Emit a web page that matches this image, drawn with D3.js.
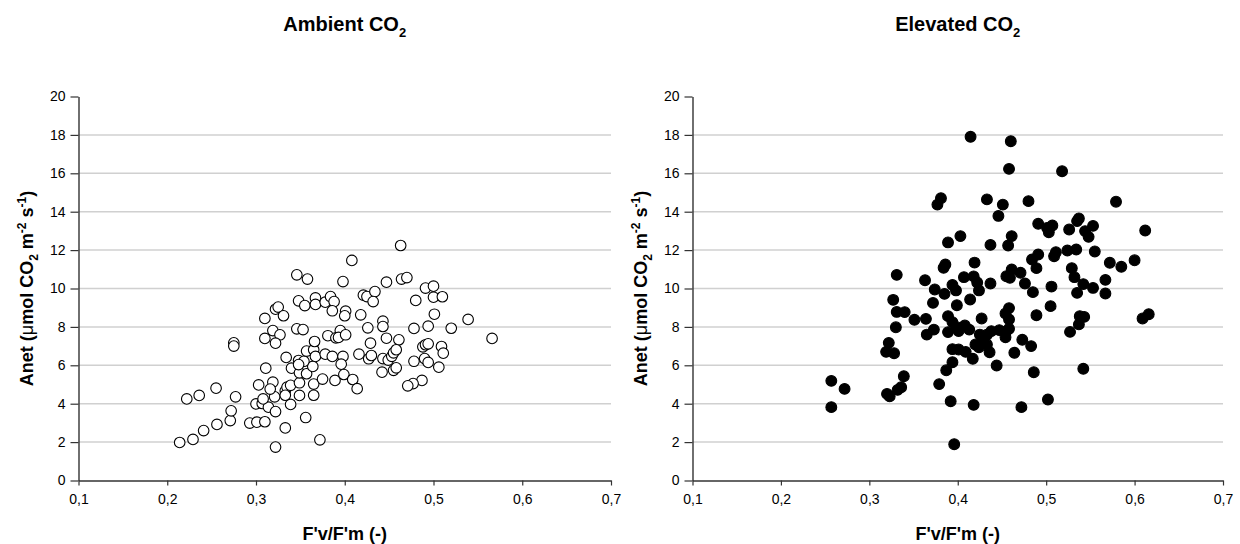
<!DOCTYPE html>
<html>
<head>
<meta charset="utf-8">
<script src="https://cdn.jsdelivr.net/npm/d3@7"></script>
<style>
body { margin: 0; background: #fff; }
</style>
</head>
<body>
<script>
var svgWidth = 1240;
var svgHeight = 544;

// Ambient CO2 panel: F'v/F'm and Anet
var ambientFv = [0.214,0.229,0.241,0.256,0.271,0.272,0.277,0.255,0.236,0.222,0.275,0.275,0.293,0.301,0.310,0.322,0.333,0.356,0.372,0.300,
  0.307,0.314,0.322,0.308,0.321,0.319,0.316,0.303,0.311,0.339,0.333,0.335,0.339,0.333,0.349,0.349,0.365,0.365,0.375,0.389,
  0.399,0.409,0.414,0.340,0.334,0.349,0.357,0.364,0.348,0.354,0.348,0.357,0.365,0.367,0.378,0.386,0.398,0.396,0.366,0.310,
  0.319,0.327,0.322,0.346,0.353,0.310,0.322,0.325,0.331,0.348,0.355,0.346,0.358,0.367,0.367,0.378,0.384,0.388,0.386,0.398,
  0.408,0.401,0.400,0.381,0.390,0.395,0.393,0.401,0.463,0.447,0.464,0.470,0.491,0.500,0.500,0.510,0.480,0.421,0.425,0.434,
  0.432,0.418,0.443,0.443,0.426,0.478,0.494,0.501,0.520,0.539,0.566,0.447,0.461,0.429,0.488,0.491,0.494,0.509,0.511,0.416,
  0.427,0.430,0.443,0.449,0.453,0.455,0.458,0.478,0.490,0.494,0.506,0.442,0.455,0.458,0.487,0.477,0.471];
var ambientAnet = [1.98,2.14,2.60,2.92,3.12,3.63,4.36,4.81,4.43,4.25,7.17,7.00,2.99,3.04,3.06,1.74,2.74,3.28,2.12,3.99,
  4.01,3.82,3.59,4.25,4.36,5.12,4.76,4.98,5.85,3.96,4.67,4.86,4.96,4.44,4.43,5.09,4.44,5.02,5.28,5.21,
  5.52,5.26,4.78,5.85,6.41,5.61,5.56,5.94,6.25,6.21,6.04,6.74,6.81,6.46,6.58,6.46,6.46,6.06,7.24,7.40,
  7.81,7.59,7.15,7.90,7.86,8.44,8.92,9.03,8.58,9.36,9.11,10.71,10.49,9.51,9.17,9.29,9.58,9.32,8.84,10.36,
  11.46,8.82,8.58,7.54,7.43,7.81,7.45,7.59,12.24,10.33,10.49,10.57,10.02,10.12,9.55,9.57,9.38,9.65,9.58,9.84,
  9.32,8.63,8.30,8.02,7.95,7.92,8.04,8.66,7.93,8.39,7.40,7.41,7.33,7.15,6.96,7.07,7.12,6.98,6.63,6.58,
  6.34,6.51,6.35,6.27,6.47,6.65,6.81,6.21,6.35,6.15,5.90,5.64,5.74,5.87,5.21,5.05,4.93];

// Elevated CO2 panel
var elevatedFv = [0.381,0.377,0.433,0.451,0.446,0.403,0.389,0.437,0.457,0.386,0.384,0.419,0.331,0.363,0.374,0.385,0.394,0.398,0.407,0.418,
  0.422,0.424,0.437,0.455,0.327,0.372,0.399,0.414,0.331,0.340,0.351,0.364,0.330,0.389,0.394,0.427,0.454,0.373,0.365,0.389,
  0.399,0.408,0.401,0.413,0.425,0.438,0.447,0.455,0.257,0.257,0.272,0.320,0.323,0.332,0.336,0.339,0.322,0.319,0.328,0.379,
  0.387,0.394,0.392,0.396,0.418,0.394,0.401,0.409,0.417,0.420,0.424,0.436,0.444,0.433,0.429,0.433,0.454,0.458,0.460,0.4145,
  0.458,0.518,0.480,0.579,0.612,0.491,0.501,0.507,0.503,0.526,0.535,0.537,0.544,0.548,0.553,0.461,0.491,0.484,0.489,0.509,
  0.511,0.524,0.534,0.555,0.572,0.585,0.600,0.461,0.459,0.471,0.476,0.485,0.506,0.529,0.532,0.542,0.535,0.553,0.567,0.567,
  0.505,0.489,0.458,0.458,0.538,0.543,0.537,0.527,0.609,0.616,0.473,0.483,0.464,0.486,0.542,0.502,0.472];
var elevatedAnet = [14.70,14.37,14.64,14.37,13.78,12.73,12.40,12.27,12.24,11.25,11.08,11.35,10.71,10.43,9.95,9.72,10.19,9.90,10.59,10.63,
  10.31,9.90,10.26,10.64,9.41,9.25,9.13,9.43,8.78,8.77,8.37,8.42,7.98,8.56,8.25,8.44,8.70,7.86,7.60,7.73,
  7.98,8.07,7.78,7.86,7.60,7.78,7.83,7.78,5.19,3.82,4.77,4.51,4.38,4.72,4.86,5.43,7.17,6.70,6.63,5.02,
  5.74,6.16,4.13,1.89,3.94,6.84,6.82,6.70,6.34,7.08,6.94,6.68,5.99,7.59,7.43,7.08,7.46,7.90,17.67,17.90,
  16.23,16.11,14.55,14.52,13.02,13.37,13.16,13.28,12.93,13.07,13.51,13.65,12.99,12.69,13.26,12.73,11.77,11.51,11.06,11.68,
  11.89,11.98,12.03,11.93,11.34,11.13,11.47,10.99,10.56,10.82,10.26,9.81,10.10,11.06,10.59,10.23,9.77,10.03,10.45,9.74,
  9.08,8.61,8.98,8.39,8.56,8.52,8.13,7.74,8.44,8.66,7.33,7.00,6.65,5.64,5.82,4.22,3.82];

var xTicks = [0.1, 0.2, 0.3, 0.4, 0.5, 0.6, 0.7];
var yTicks = [0, 2, 4, 6, 8, 10, 12, 14, 16, 18, 20];

var svg = d3.select("body")
    .append("svg")
    .attr("width", svgWidth)
    .attr("height", svgHeight)
    .style("font-family", "Arial, 'Liberation Sans', sans-serif");

var drawPanel = function (left, right, title, xs, ys, filled) {
    var x = d3.scaleLinear().domain([0.1, 0.7]).range([left, right]);
    var y = d3.scaleLinear().domain([0, 20]).range([480.5, 96.5]);
    var g = svg.append("g");

    // gridlines
    g.selectAll("line.grid")
        .data(yTicks.filter(function (d) { return d > 0 && d < 20; }))
        .enter()
        .append("line")
        .attr("x1", left)
        .attr("x2", right)
        .attr("y1", function (d) { return y(d); })
        .attr("y2", function (d) { return y(d); })
        .attr("stroke", "#d0d0d0")
        .attr("stroke-width", 1.5);

    var fmt = function (d) { return d3.format(".1f")(d).replace(".", ","); };

    var xAxis = g.append("g")
        .attr("transform", "translate(0," + y(0) + ")")
        .call(d3.axisBottom(x).tickValues(xTicks).tickFormat(fmt).tickSize(5).tickPadding(7).tickSizeOuter(0));
    var yAxis = g.append("g")
        .attr("transform", "translate(" + left + ",0)")
        .call(d3.axisLeft(y).tickValues(yTicks).tickSize(8).tickPadding(5).tickSizeOuter(0));

    [xAxis, yAxis].forEach(function (a) {
        a.select(".domain").attr("stroke", "#333").attr("stroke-width", 1.4);
        a.selectAll(".tick line").attr("stroke", "#333").attr("stroke-width", 1.2);
        a.selectAll(".tick text").attr("fill", "#000").style("font-size", "14px");
    });
    xAxis.selectAll(".tick text").attr("dy", "0.85em");

    // points
    g.selectAll("circle")
        .data(xs)
        .enter()
        .append("circle")
        .attr("cx", function (d) { return x(d); })
        .attr("cy", function (d, i) { return y(ys[i]); })
        .attr("r", filled ? 5.4 : 5.3)
        .attr("fill", filled ? "#000" : "#fff")
        .attr("stroke", "#000")
        .attr("stroke-width", 1.1);

    var cx = (left + right) / 2;

    // title
    var t = svg.append("text")
        .attr("x", cx)
        .attr("y", 31)
        .attr("text-anchor", "middle")
        .style("font-size", "20px")
        .style("font-weight", "bold")
        .text(title + " CO");
    t.append("tspan").attr("dy", 6).style("font-size", "13px").text("2");

    // x title
    svg.append("text")
        .attr("x", cx)
        .attr("y", 540)
        .attr("text-anchor", "middle")
        .style("font-size", "18px")
        .style("font-weight", "bold")
        .text("F'v/F'm (-)");

    // y title
    var yl = svg.append("text")
        .attr("transform", "translate(" + (left - 45.5) + "," + ((480.5 + 96.5) / 2) + ") rotate(-90)")
        .attr("text-anchor", "middle")
        .style("font-size", "18px")
        .style("font-weight", "bold");
    yl.append("tspan").text("Anet (");
    yl.append("tspan").style("font-weight", "normal").text("\u03bc");
    yl.append("tspan").text("mol CO");
    yl.append("tspan").attr("dy", 5).style("font-size", "12px").text("2");
    yl.append("tspan").attr("dy", -5).text(" m");
    yl.append("tspan").attr("dy", -7).style("font-size", "12px").text("-2");
    yl.append("tspan").attr("dy", 7).text(" s");
    yl.append("tspan").attr("dy", -7).style("font-size", "12px").text("-1");
    yl.append("tspan").attr("dy", 7).text(")");
};

drawPanel(78.5, 611, "Ambient", ambientFv, ambientAnet, false);
drawPanel(692.5, 1223, "Elevated", elevatedFv, elevatedAnet, true);
</script>
</body>
</html>
